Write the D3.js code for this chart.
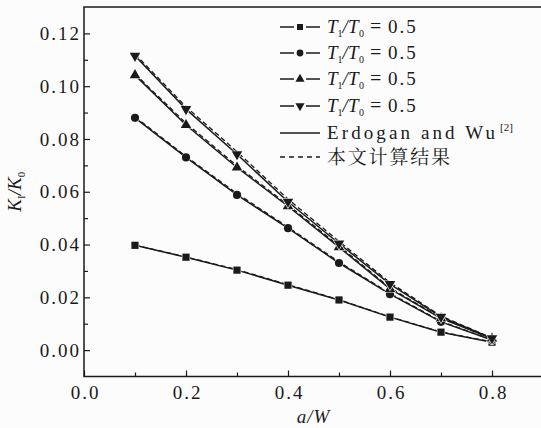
<!DOCTYPE html>
<html>
<head>
<meta charset="utf-8">
<script src="https://cdn.jsdelivr.net/npm/d3@7.9.0/dist/d3.min.js"></script>
<style>
  html, body { margin: 0; padding: 0; background: #fcfcfc; }
  svg { display: block; }
</style>
</head>
<body>
<svg id="chart" width="541" height="428"></svg>
<script>
// a/W positions
const aW = [0.1, 0.2, 0.3, 0.4, 0.5, 0.6, 0.7, 0.8];

// Erdogan and Wu (solid) and our results (dashed), one pair per series
const squareSolid   = [0.0397, 0.0352, 0.0303, 0.0246, 0.0190, 0.0125, 0.0068, 0.0030];
const squareDashed  = [0.0398, 0.0353, 0.0305, 0.0248, 0.0191, 0.0126, 0.0069, 0.0031];
const circleSolid   = [0.0880, 0.0730, 0.0588, 0.0462, 0.0330, 0.0212, 0.0107, 0.0038];
const circleDashed  = [0.0884, 0.0734, 0.0593, 0.0466, 0.0334, 0.0215, 0.0109, 0.0039];
const upSolid       = [0.1042, 0.0853, 0.0692, 0.0545, 0.0390, 0.0232, 0.0120, 0.0044];
const upDashed      = [0.1046, 0.0860, 0.0698, 0.0550, 0.0395, 0.0236, 0.0122, 0.0045];
const downSolid     = [0.1115, 0.0913, 0.0742, 0.0562, 0.0404, 0.0250, 0.0126, 0.0045];
const downDashed    = [0.1122, 0.0922, 0.0752, 0.0572, 0.0412, 0.0256, 0.0129, 0.0046];

const legendSub = [['1', '0'], ['1', '0'], ['1', '0'], ['1', '0']];
const legendValue = ['0.5', '0.5', '0.5', '0.5'];
const xTicks = [0.0, 0.2, 0.4, 0.6, 0.8];
const yTicks = [0.00, 0.02, 0.04, 0.06, 0.08, 0.10, 0.12];

const serif = '"Liberation Serif", "Times New Roman", serif';
const ink = '#1a1a1a';

const svg = d3.select('#chart')
  .attr('font-family', serif)
  .attr('fill', ink);

const x = d3.scaleLinear().domain([0, 0.9]).range([84, 543]);
const y = d3.scaleLinear().domain([-0.01, 0.13]).range([376.5, 7]);

// frame
svg.append('path')
  .attr('d', `M${x(0.9)},${y(0.13)}H${x(0)}V${y(-0.01)}H${x(0.9)}`)
  .attr('fill', 'none').attr('stroke', ink).attr('stroke-width', 1.5);

// x axis ticks (inward)
const xAxis = d3.axisBottom(x).tickValues(xTicks).tickSize(-6).tickFormat(d3.format('.1f'));
const xg = svg.append('g').attr('transform', `translate(0,${y(-0.01)})`).call(xAxis);
svg.append('g').attr('transform', `translate(0,${y(-0.01)})`)
  .call(d3.axisBottom(x).tickValues([0.1, 0.3, 0.5, 0.7]).tickSize(-4).tickFormat(''));

// y axis ticks (inward)
const yAxis = d3.axisLeft(y).tickValues(yTicks).tickSize(-6).tickFormat(d3.format('.2f'));
const yg = svg.append('g').attr('transform', `translate(${x(0)},0)`).call(yAxis);
svg.append('g').attr('transform', `translate(${x(0)},0)`)
  .call(d3.axisLeft(y).tickValues([0.01, 0.03, 0.05, 0.07, 0.09, 0.11]).tickSize(-4).tickFormat(''));

svg.selectAll('.domain').remove();
svg.selectAll('g').attr('font-family', serif);
svg.selectAll('.tick line').attr('stroke', ink).attr('stroke-width', 1.2);
xg.selectAll('text').attr('font-size', 19).attr('letter-spacing', 2).attr('dy', '1.0em')
  .attr('dx', 1).attr('font-family', serif).attr('fill', ink);
yg.selectAll('text').attr('font-size', 19).attr('letter-spacing', 2).attr('x', -3)
  .attr('font-family', serif).attr('fill', ink);

// axis titles
svg.append('text').attr('x', x(0.45)).attr('y', 423)
  .attr('text-anchor', 'middle').attr('font-size', 19).attr('font-style', 'italic')
  .attr('letter-spacing', 1).attr('font-family', serif).text('a/W');

const yt = svg.append('text').attr('transform', `translate(21,${y(0.06)}) rotate(-90)`)
  .attr('text-anchor', 'middle').attr('font-size', 19).attr('font-family', serif);
yt.append('tspan').attr('font-style', 'italic').text('K');
yt.append('tspan').attr('font-size', 11).attr('dy', 4).text('I');
yt.append('tspan').attr('dy', -4).attr('font-style', 'italic').text('/K');
yt.append('tspan').attr('font-size', 11).attr('dy', 4).text('0');

// series
const series = [
  { solid: squareSolid, dashed: squareDashed, sym: d3.symbolSquare, size: 52, rot: 0 },
  { solid: circleSolid, dashed: circleDashed, sym: d3.symbolCircle, size: 52, rot: 0 },
  { solid: upSolid, dashed: upDashed, sym: d3.symbolTriangle, size: 48, rot: 0 },
  { solid: downSolid, dashed: downDashed, sym: d3.symbolTriangle, size: 48, rot: 180 }
];

const line = d3.line().x((d) => x(d[0])).y((d) => y(d[1]));

series.forEach((s) => {
  svg.append('path')
    .attr('d', line(aW.map((a, i) => [a, s.dashed[i]])))
    .attr('fill', 'none').attr('stroke', ink).attr('stroke-width', 1.3)
    .attr('stroke-dasharray', '5,3');
  svg.append('path')
    .attr('d', line(aW.map((a, i) => [a, s.solid[i]])))
    .attr('fill', 'none').attr('stroke', ink).attr('stroke-width', 1.5);
});

series.forEach((s) => {
  const sym = d3.symbol().type(s.sym).size(s.size);
  svg.append('g').selectAll('path')
    .data(aW.map((a, i) => [a, s.solid[i]]))
    .join('path')
    .attr('d', sym)
    .attr('transform', (d) => `translate(${x(d[0])},${y(d[1])}) rotate(${s.rot})`)
    .attr('fill', ink)
    .attr('stroke', '#fcfcfc').attr('stroke-width', 1.2)
    .attr('paint-order', 'stroke');
});

// legend
const lg = svg.append('g');
const rowY = [27, 53, 79, 106, 133, 157];

series.forEach((s, i) => {
  const yy = rowY[i];
  lg.append('line').attr('x1', 280).attr('x2', 294).attr('y1', yy).attr('y2', yy)
    .attr('stroke', ink).attr('stroke-width', 1.5);
  lg.append('line').attr('x1', 306).attr('x2', 320).attr('y1', yy).attr('y2', yy)
    .attr('stroke', ink).attr('stroke-width', 1.5);
  lg.append('path').attr('d', d3.symbol().type(s.sym).size(36))
    .attr('transform', `translate(300,${yy}) rotate(${s.rot})`).attr('fill', ink);

  const t = lg.append('text').attr('y', yy + 6).attr('font-size', 19).attr('font-family', serif);
  t.append('tspan').attr('x', 327).attr('font-style', 'italic').text('T');
  t.append('tspan').attr('x', 337.5).attr('dy', 4).attr('font-size', 10).text(legendSub[i][0]);
  t.append('tspan').attr('x', 342.5).attr('dy', -4).attr('font-style', 'italic').text('/');
  t.append('tspan').attr('x', 348).attr('font-style', 'italic').text('T');
  t.append('tspan').attr('x', 359).attr('dy', 4).attr('font-size', 10).text(legendSub[i][1]);
  t.append('tspan').attr('x', 370).attr('dy', -4).attr('font-size', 20).text('=');
  t.append('tspan').attr('x', 388).attr('letter-spacing', 2).text(legendValue[i]);
});

lg.append('line').attr('x1', 280).attr('x2', 320).attr('y1', rowY[4]).attr('y2', rowY[4])
  .attr('stroke', ink).attr('stroke-width', 1.3);
lg.append('text').attr('x', 327).attr('y', rowY[4] + 6).attr('font-size', 19)
  .attr('font-family', serif).attr('textLength', 168).attr('lengthAdjust', 'spacing')
  .text('Erdogan and Wu');
lg.append('text').attr('x', 500).attr('y', rowY[4] - 2).attr('font-size', 11)
  .attr('font-family', serif).text('[2]');

lg.append('line').attr('x1', 280).attr('x2', 320).attr('y1', rowY[5]).attr('y2', rowY[5])
  .attr('stroke', ink).attr('stroke-width', 1.3).attr('stroke-dasharray', '5,4');
lg.append('text').attr('x', 327).attr('y', rowY[5] + 7).attr('font-size', 19)
  .attr('font-family', '"Noto Serif CJK SC", "Noto Sans CJK SC", serif')
  .attr('textLength', 123).attr('lengthAdjust', 'spacing').text('本文计算结果');
</script>
</body>
</html>
